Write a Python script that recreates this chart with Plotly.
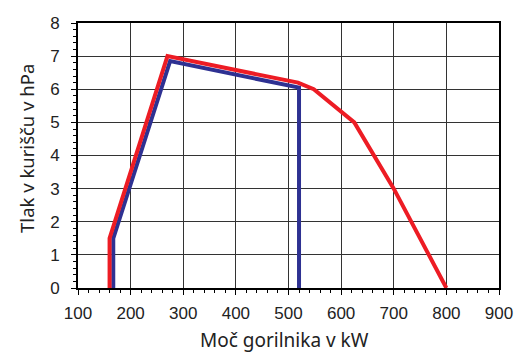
import plotly.graph_objects as go

red_x = [160, 160, 270, 518, 548, 625, 700, 800]
red_y = [0, 1.5, 7.0, 6.2, 6.0, 5.0, 3.0, 0]
blue_x = [167, 167, 275, 520, 520]
blue_y = [0, 1.5, 6.85, 6.05, 0]

x_ticks = [100, 200, 300, 400, 500, 600, 700, 800, 900]
y_ticks = [0, 1, 2, 3, 4, 5, 6, 7, 8]

x_title = "Moč gorilnika v kW"
y_title = "Tlak v kurišču v hPa"

fig = go.Figure()
fig.add_trace(go.Scatter(x=blue_x, y=blue_y, mode="lines",
                         line=dict(color="#2E3192", width=4), showlegend=False))
fig.add_trace(go.Scatter(x=red_x, y=red_y, mode="lines",
                         line=dict(color="#ED1C24", width=4), showlegend=False))

axis_common = dict(
    showline=True, linecolor="black", linewidth=2, mirror=True,
    showgrid=True, gridcolor="#333333", gridwidth=1.3,
    ticks="outside", ticklen=5, tickcolor="black", tickwidth=1.2,
    zeroline=False, automargin=False,
    tickfont=dict(family="Liberation Sans, Arial", size=17, color="#222"),
)

fig.update_xaxes(range=[100, 900], tickvals=x_ticks,
                 minor=dict(dtick=20, ticklen=3, tickcolor="black", ticks="outside", showgrid=False),
                 ticklabelstandoff=4,
                 **axis_common)
fig.update_yaxes(range=[0, 8], tickvals=y_ticks,
                 minor=dict(dtick=0.2, ticklen=3, tickcolor="black", ticks="outside", showgrid=False),
                 ticklabelstandoff=8,
                 **axis_common)

fig.add_annotation(text=x_title, xref="paper", yref="paper", x=0.49, y=-0.196,
                   xanchor="center", yanchor="middle", showarrow=False,
                   font=dict(family="Noto Sans", size=19, color="#222"))
fig.add_annotation(text=y_title, xref="paper", yref="paper", x=-0.121, y=0.525,
                   xanchor="center", yanchor="middle", showarrow=False, textangle=-90,
                   font=dict(family="Noto Sans", size=18.5, color="#222"))

fig.update_layout(width=517, height=354, margin=dict(l=78, r=18, t=23, b=66),
                  plot_bgcolor="white", paper_bgcolor="white")

fig.write_html("out.html", config={"displayModeBar": False},
               post_script="document.body.style.margin='0';document.body.style.overflow='hidden';")
